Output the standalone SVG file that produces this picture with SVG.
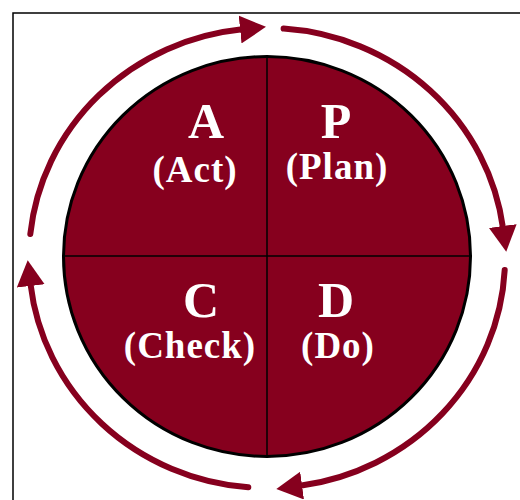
<svg xmlns="http://www.w3.org/2000/svg" width="520" height="500" viewBox="0 0 520 500">
  <style>
    .arc { fill: none; stroke: #86001E; stroke-width: 6; stroke-linecap: round; }
    .big { font-family: "Liberation Serif", "Times New Roman", serif; font-weight: bold; font-size: 50px; fill: #ffffff; text-anchor: middle; }
    .sub { font-family: "Liberation Serif", "Times New Roman", serif; font-weight: bold; font-size: 37px; fill: #ffffff; text-anchor: middle; letter-spacing: 1px; }
    .div { stroke: #000000; stroke-width: 1.5; }
  </style>
  <defs>
    <marker id="head" markerUnits="userSpaceOnUse" viewBox="0 0 26 28" markerWidth="26" markerHeight="28" refX="2" refY="14" orient="auto">
      <path d="M0,0 L26,14 L0,28 Z" fill="#86001E"/>
    </marker>
  </defs>
  <rect x="13" y="13" width="520" height="500" fill="#ffffff" stroke="#000000" stroke-width="1.5"/>
  <g id="cycle">
    <ellipse cx="267" cy="256.5" rx="203.5" ry="200" fill="#86001E" stroke="#000000" stroke-width="3"/>
    <line class="div" x1="267" y1="56" x2="267" y2="457"/>
    <line class="div" x1="63" y1="256" x2="471" y2="256"/>
  </g>
  <g id="connectors">
    <path class="arc" d="M30.3,234 A238,230 0 0 1 242.1,29.3" marker-end="url(#head)"/>
    <path class="arc" d="M283.6,28.6 A238,230 0 0 1 503,228" marker-end="url(#head)"/>
    <path class="arc" d="M504.7,270 A238,230 0 0 1 300.1,485.8" marker-end="url(#head)"/>
    <path class="arc" d="M248.3,487.3 A238,230 0 0 1 30.5,284" marker-end="url(#head)"/>
  </g>
  <g id="act">
    <text class="big" x="206" y="138">A</text>
    <text class="sub" x="195" y="182">(Act)</text>
  </g>
  <g id="plan">
    <text class="big" x="336" y="138">P</text>
    <text class="sub" x="337" y="179">(Plan)</text>
  </g>
  <g id="check">
    <text class="big" x="201" y="317">C</text>
    <text class="sub" x="190" y="358">(Check)</text>
  </g>
  <g id="do">
    <text class="big" x="336" y="317">D</text>
    <text class="sub" x="338" y="358">(Do)</text>
  </g>
</svg>
